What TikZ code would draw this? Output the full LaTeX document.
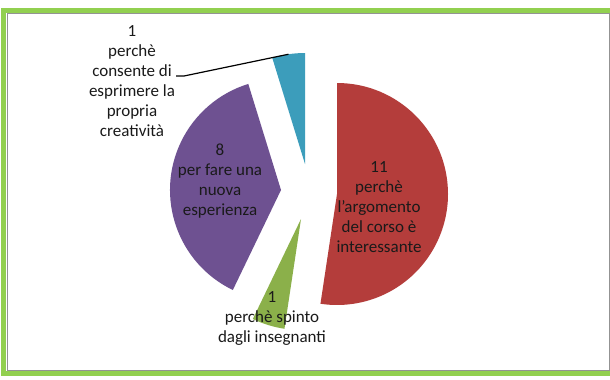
\documentclass[tikz,border=0pt]{standalone}
\usepackage{fontspec}
\usetikzlibrary{calc}
\setmainfont{Carlito}
\definecolor{sred}{HTML}{B43D3B}
\definecolor{sgreen}{HTML}{8BB04A}
\definecolor{spurple}{HTML}{6E5191}
\definecolor{sblue}{HTML}{3C9DBB}
\definecolor{frame}{HTML}{92D050}
\definecolor{txt}{HTML}{1A1A1A}
\tikzset{
  lbl/.style={align=center, text=txt, inner sep=0pt, font=\fontsize{17bp}{20bp}\selectfont},
}
\begin{document}
\begin{tikzpicture}[x=1bp,y=1bp]
\useasboundingbox (0,0) rectangle (610,379);
\fill[white] (0,0) rectangle (610,379);
% frame
\draw[frame, line width=5bp] (3.5,5.5) rectangle (613,368.5);
\draw[gray!85, line width=1bp] (7.5,8.5) rectangle (609,365.5);
% slices
\coordinate (cr) at (337,185);
\coordinate (cg) at (301,160);
\coordinate (cp) at (281,189);
\coordinate (cb) at (305,215);
\fill[sred] (cr) -- ++(90:111) arc[start angle=90, end angle=-98.571, radius=111] -- cycle;
\fill[sgreen] (cg) -- ++(-98.571:111) arc[start angle=-98.571, end angle=-115.714, radius=111] -- cycle;
\fill[spurple] (cp) -- ++(-115.714:111) arc[start angle=-115.714, end angle=-252.857, radius=111] -- cycle;
\fill[sblue] (cb) -- ++(107.143:111) arc[start angle=107.143, end angle=90, radius=111] -- cycle;
% labels
\node[lbl] (lr) at (379,172) {11\\perchè\\l'argomento\\del corso è\\interessante};
\node[lbl] (lp) at (220,198) {8\\per fare una\\nuova\\esperienza};
\node[lbl] (lg) at (272,61) {1\\perchè spinto\\dagli insegnanti};
\node[lbl] (lb) at (132,297.5) {1\\perchè\\consente di\\esprimere la\\propria\\creatività};
% leader
\coordinate (la) at (176,303);
\coordinate (lm) at (184,303);
\coordinate (le) at ($(cb)+(98.571:111)$);
\draw[black, line width=1.2bp] (la) -- (lm) -- (le);
\end{tikzpicture}
\end{document}
